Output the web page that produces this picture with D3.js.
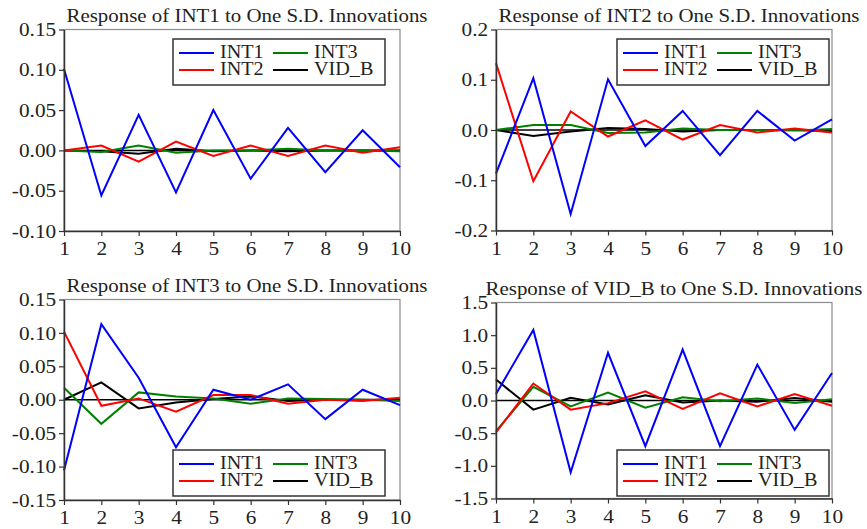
<!DOCTYPE html>
<html>
<head>
<meta charset="utf-8">
<script src="https://cdn.jsdelivr.net/npm/d3@7"></script>
<style>
  body { margin: 0; background: #fff; }
  svg text { font-family: "Liberation Serif", "Times New Roman", serif; fill: #222; }
</style>
</head>
<body>
<script>
// periods on the x axis
var periods = [1, 2, 3, 4, 5, 6, 7, 8, 9, 10];
var seriesNames = ["INT1", "INT2", "INT3", "VID_B"];
var seriesColors = ["#0000ff", "#ff0000", "#008000", "#000000"];

// Response of INT1
var int1_INT1 = [0.101, -0.056, 0.044, -0.052, 0.050, -0.035, 0.028, -0.027, 0.025, -0.021];
var int1_INT2 = [0.000, 0.006, -0.014, 0.011, -0.007, 0.006, -0.007, 0.006, -0.003, 0.004];
var int1_INT3 = [0.000, -0.002, 0.006, -0.003, 0.000, 0.000, 0.002, 0.000, 0.000, -0.001];
var int1_VIDB = [0.000, -0.001, -0.004, 0.002, -0.001, 0.000, -0.001, 0.000, 0.000, 0.000];

// Response of INT2
var int2_INT1 = [-0.087, 0.103, -0.167, 0.101, -0.032, 0.038, -0.050, 0.038, -0.021, 0.021];
var int2_INT2 = [0.133, -0.102, 0.037, -0.013, 0.019, -0.019, 0.010, -0.005, 0.003, -0.005];
var int2_INT3 = [0.000, 0.010, 0.010, -0.006, -0.005, 0.003, 0.000, 0.000, -0.001, 0.002];
var int2_VIDB = [0.000, -0.012, -0.003, 0.004, 0.002, -0.003, 0.000, 0.000, 0.000, -0.003];

// Response of INT3
var int3_INT1 = [-0.106, 0.113, 0.033, -0.071, 0.015, 0.000, 0.023, -0.029, 0.015, -0.008];
var int3_INT2 = [0.102, -0.009, 0.002, -0.018, 0.007, 0.007, -0.006, 0.000, -0.002, 0.003];
var int3_INT3 = [0.018, -0.036, 0.011, 0.005, 0.002, -0.006, 0.002, 0.001, 0.000, -0.002];
var int3_VIDB = [0.000, 0.026, -0.013, -0.004, 0.001, 0.005, -0.002, 0.000, 0.000, 0.000];

// Response of VID_B
var vidb_INT1 = [0.10, 1.08, -1.10, 0.73, -0.70, 0.78, -0.70, 0.55, -0.45, 0.42];
var vidb_INT2 = [-0.49, 0.26, -0.14, -0.04, 0.14, -0.13, 0.11, -0.09, 0.10, -0.08];
var vidb_INT3 = [-0.47, 0.21, -0.09, 0.12, -0.11, 0.05, -0.01, 0.03, -0.04, 0.02];
var vidb_VIDB = [0.32, -0.14, 0.04, -0.06, 0.08, -0.03, 0.00, -0.02, 0.04, -0.02];

var yTicks1 = [-0.10, -0.05, 0.00, 0.05, 0.10, 0.15];
var yTicks2 = [-0.2, -0.1, 0.0, 0.1, 0.2];
var yTicks3 = [-0.15, -0.10, -0.05, 0.00, 0.05, 0.10, 0.15];
var yTicks4 = [-1.5, -1.0, -0.5, 0.0, 0.5, 1.0, 1.5];

var panels = [
  {title: "Response of INT1 to One S.D. Innovations", series: [int1_INT1, int1_INT2, int1_INT3, int1_VIDB],
   ticks: yTicks1, fmt: ".2f", box: [64, 29.5, 400, 231], legend: [173, 39], tx: 247},
  {title: "Response of INT2 to One S.D. Innovations", series: [int2_INT1, int2_INT2, int2_INT3, int2_VIDB],
   ticks: yTicks2, fmt: ".1f", box: [496, 29.5, 832, 230.5], legend: [617, 39], tx: 679},
  {title: "Response of INT3 to One S.D. Innovations", series: [int3_INT1, int3_INT2, int3_INT3, int3_VIDB],
   ticks: yTicks3, fmt: ".2f", box: [64, 299.5, 400, 500], legend: [173, 450], tx: 247},
  {title: "Response of VID_B to One S.D. Innovations", series: [vidb_INT1, vidb_INT2, vidb_INT3, vidb_VIDB],
   ticks: yTicks4, fmt: ".1f", box: [496, 302.5, 832, 498.5], legend: [617, 450], tx: 674}
];

var W = 867, H = 529;
var locale = d3.formatLocale({decimal: ".", thousands: ",", grouping: [3], currency: ["", ""], minus: "-"});
var sx = 1.1; // reference glyphs are a bit wide

var svg = d3.select("body").append("svg")
  .attr("width", W)
  .attr("height", H);

panels.forEach(function(p) {
  var x0 = p.box[0], y0 = p.box[1], x1 = p.box[2], y1 = p.box[3];

  var x = d3.scaleLinear().domain([1, 10]).range([x0, x1]);
  var y = d3.scaleLinear().domain(d3.extent(p.ticks)).range([y1, y0]);

  var g = svg.append("g");

  // frame (top / right in grey)
  g.append("rect")
    .attr("x", x0).attr("y", y0)
    .attr("width", x1 - x0).attr("height", y1 - y0)
    .attr("fill", "none").attr("stroke", "#8c8c8c").attr("stroke-width", 1.2);

  // zero line
  g.append("line")
    .attr("x1", x0).attr("x2", x1)
    .attr("y1", y(0)).attr("y2", y(0))
    .attr("stroke", "#000").attr("stroke-width", 1.5);

  var line = d3.line()
    .x(function(d, i) { return x(periods[i]); })
    .y(function(d) { return y(d); });

  // draw so blue sits on top like the reference
  [3, 2, 1, 0].forEach(function(k) {
    g.append("path")
      .datum(p.series[k])
      .attr("d", line)
      .attr("fill", "none")
      .attr("stroke", seriesColors[k])
      .attr("stroke-width", 2)
      .attr("stroke-linejoin", "miter");
  });

  var yAxis = d3.axisLeft(y).tickValues(p.ticks).tickFormat(locale.format(p.fmt))
    .tickSize(5).tickSizeOuter(0).tickPadding(2);
  var xAxis = d3.axisBottom(x).tickValues(periods).tickFormat(d3.format("d"))
    .tickSize(5).tickSizeOuter(0).tickPadding(6);

  var ya = g.append("g").attr("transform", "translate(" + x0 + ",0)").call(yAxis);
  var xa = g.append("g").attr("transform", "translate(0," + y1 + ")").call(xAxis);

  [ya, xa].forEach(function(a) {
    a.select(".domain").attr("stroke", "#333").attr("stroke-width", 1.5);
    a.selectAll(".tick line").attr("stroke", "#333").attr("stroke-width", 1.2);
    a.selectAll("text")
      .style("font-size", "19px")
      .attr("fill", "#222")
      .attr("transform", "scale(" + 1.12 + ",1)");
  });

  // title
  g.append("text")
    .attr("transform", "translate(" + p.tx + "," + (y0 - 7.5) + ") scale(" + sx + ",1)")
    .attr("text-anchor", "middle")
    .style("font-size", "19px")
    .text(p.title);

  // legend
  var lx = p.legend[0], ly = p.legend[1];
  var lg = g.append("g").attr("transform", "translate(" + lx + "," + ly + ")");
  lg.append("rect")
    .attr("width", 212).attr("height", 46)
    .attr("fill", "#fff").attr("stroke", "#333").attr("stroke-width", 1.5);

  seriesNames.forEach(function(name, k) {
    var col = Math.floor(k / 2), row = k % 2;
    var ex = 6 + col * 94, ey = 14 + row * 17;
    lg.append("line")
      .attr("x1", ex).attr("x2", ex + 35)
      .attr("y1", ey).attr("y2", ey)
      .attr("stroke", seriesColors[k]).attr("stroke-width", 2);
    lg.append("text")
      .attr("transform", "translate(" + (ex + 41) + "," + (ey + 5) + ") scale(" + 1.12 + ",1)")
      .style("font-size", "18px")
      .text(name);
  });
});
</script>
</body>
</html>
